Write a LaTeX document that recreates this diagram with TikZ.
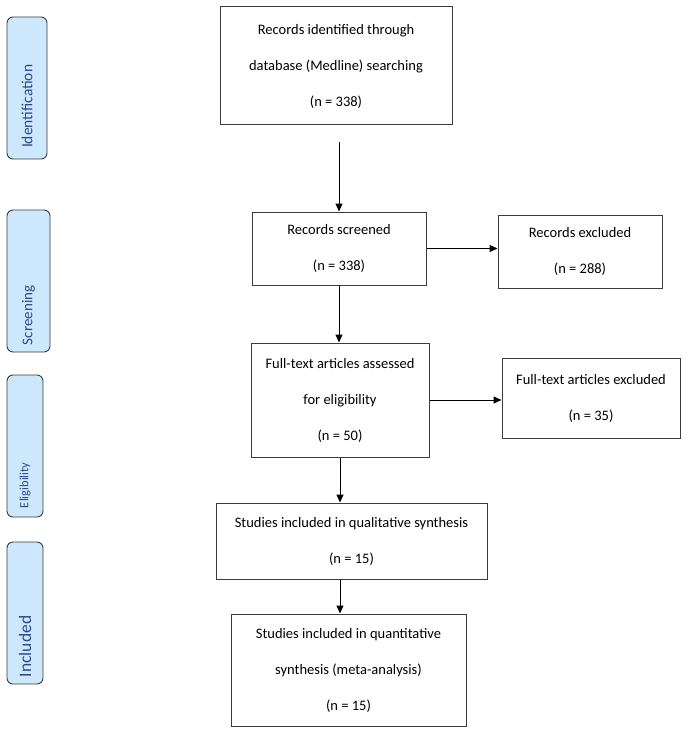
\documentclass[tikz,border=0pt]{standalone}
\usepackage{fontspec}
\setmainfont{Carlito}
\usepackage{tikz}
\usetikzlibrary{positioning}
\usetikzlibrary{arrows.meta}
\definecolor{stagefill}{RGB}{205,232,252}
\definecolor{stagetext}{RGB}{46,72,140}
\definecolor{boxline}{RGB}{60,60,60}

\begin{document}
\begin{tikzpicture}[
            x = 1pt, y = -1pt, % pixel grid, y going down
            > = {Stealth[length=8pt, width=7pt, inset=0pt]}, % arrow head style
            semithick % line style
            ]

        \tikzstyle{record}=[
            draw = boxline,
            line width = 1pt,
            fill = white,
            align = center,
            inner sep = 0pt,
            font = \fontsize{14.5}{36}\selectfont
        ]
        \tikzstyle{stage}=[
            draw = boxline,
            line width = 0.9pt,
            fill = stagefill,
            text = stagetext,
            rounded corners = 6pt,
            rotate = 90,
            align = left,
            inner ysep = 0pt
        ]
        \tikzstyle{flow}=[->, line width = 1pt, black]

  \useasboundingbox (0,0) rectangle (685,730);

	% stages on the left
	\node[stage, text width=120pt, inner xsep=11pt, minimum height=40pt, font=\fontsize{15.5}{18}\selectfont] (S1) at (27,88) {Identification};
	\node[stage, text width=128pt, inner xsep=7pt, minimum height=43pt, font=\fontsize{15}{18}\selectfont] (S2) at (28.5,281) {Screening};
	\node[stage, text width=124pt, inner xsep=9pt, minimum height=36pt, font=\fontsize{12.5}{15}\selectfont] (S3) at (25,446) {Eligibility};
	\node[stage, text width=128pt, inner xsep=7pt, minimum height=36pt, font=\fontsize{17.5}{21}\selectfont] (S4) at (25,613) {Included};

	% main column
	\node[record, minimum width=232pt, minimum height=118pt] (id) at (336,66) {Records identified through\\database (Medline) searching\\(n = 338)};
	\node[record, minimum width=174pt, minimum height=73pt] (scr) [below=86pt of id, xshift=3pt] {Records screened\\(n = 338)};
	\node[record, minimum width=178pt, minimum height=114pt] (full) [below=57pt of scr, xshift=1pt] {Full-text articles assessed\\for eligibility\\(n = 50)};
	\node[record, minimum width=271pt, minimum height=76pt] (qual) [below=45pt of full, xshift=11.5pt] {Studies included in qualitative synthesis\\(n = 15)};
	\node[record, minimum width=235pt, minimum height=112pt] (quant) [below=34pt of qual, xshift=-3pt] {Studies included in quantitative\\synthesis (meta-analysis)\\(n = 15)};

	% exclusions
	\node[record, minimum width=164pt, minimum height=73pt] (excl) [right=71pt of scr, yshift=-3pt] {Records excluded\\(n = 288)};
	\node[record, minimum width=178pt, minimum height=80pt] (excl2) [right=72pt of full, yshift=2pt] {Full-text articles excluded\\(n = 35)};

	% arrows
	\draw[flow, shorten <=17pt] (scr |- id.south) -- (scr);
	\draw[flow] (scr) -- (scr -| excl.west);
	\draw[flow] (scr) -- (scr |- full.north);
	\draw[flow] (full) -- (full -| excl2.west);
	\draw[flow] (full) -- (full |- qual.north);
	\draw[flow] (qual.south -| full) -- (full |- quant.north);

  \end{tikzpicture}
\end{document}
